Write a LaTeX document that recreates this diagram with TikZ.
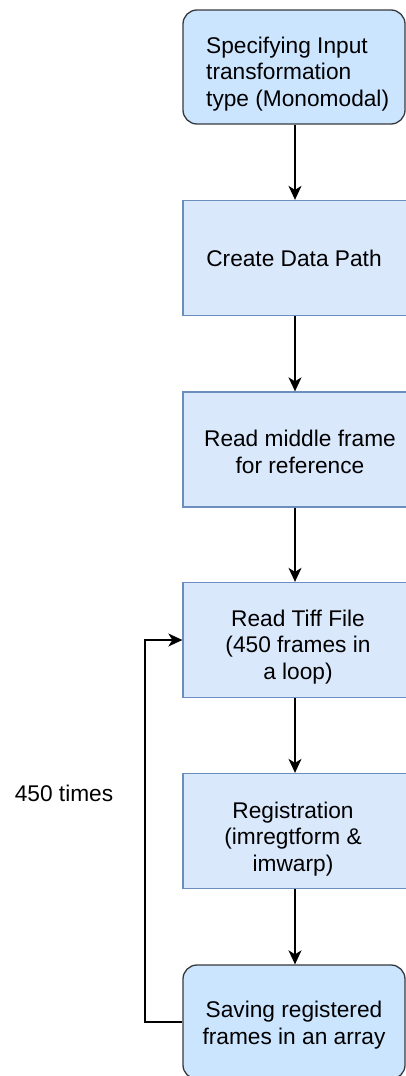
\documentclass[tikz,border=0pt]{standalone}
\usepackage{fontspec}
\setmainfont{Liberation Sans}
\usetikzlibrary{arrows.meta}
\definecolor{paleblue}{HTML}{DAE8FC}
\definecolor{paleedge}{HTML}{6C8EBF}
\definecolor{termfill}{HTML}{CCE5FF}
\definecolor{termedge}{HTML}{36393D}
\begin{document}
\begin{tikzpicture}[x=1pt,y=-1pt,
  box/.style={draw=paleedge, fill=paleblue, line width=1.3pt,
    minimum width=224pt, minimum height=115pt, inner sep=0pt},
  term/.style={draw=termedge, fill=termfill, line width=1.3pt, rounded corners=14pt,
    minimum width=222pt, minimum height=114pt, inner sep=0pt},
  lbl/.style={font=\fontsize{22.7}{26.5}\selectfont, align=center, inner sep=0pt},
  flow/.style={line width=1.5pt, -{Stealth[length=14pt,width=13pt,inset=4pt]}}
]
\useasboundingbox (0,0) rectangle (406,1076);

% process steps
\node[term] (b1) at (294,67)   {};
\node[box]  (b2) at (295,258)  {};
\node[box]  (b3) at (295,449.5){};
\node[box]  (b4) at (295,640)  {};
\node[box]  (b5) at (295,831)  {};
\node[term] (b6) at (294,1022) {};

% step labels
\node[lbl, align=left, anchor=west] (t1) at (206,74)
  {Specifying Input\\transformation\\type (Monomodal)};
\node[lbl] (t2) at (294,258) {Create Data Path};
\node[lbl] (t3) at (300,452) {Read middle frame\\for reference};
\node[lbl] (t4) at (298,647) {Read Tiff File\\(450 frames in\\a loop)};
\node[lbl] (t5) at (293,839) {Registration\\(imregtform \&\\imwarp)};
\node[lbl] (t6) at (294,1025) {Saving registered\\frames in an array};

% loop annotation
\node[lbl] (times) at (64,793) {450 times};

% main flow, kept vertical on the common axis
\draw[flow] (b1.south -| b2.north) -- (b2.north);
\draw[flow] (b2) -- (b3);
\draw[flow] (b3) -- (b4);
\draw[flow] (b4) -- (b5);
\draw[flow] (b5.south) -- (b6.north -| b5.south);

% feedback loop
\coordinate (loop) at (145,830);
\draw[flow] (b6.west) -| (loop) |- (b4.west);
\end{tikzpicture}
\end{document}
